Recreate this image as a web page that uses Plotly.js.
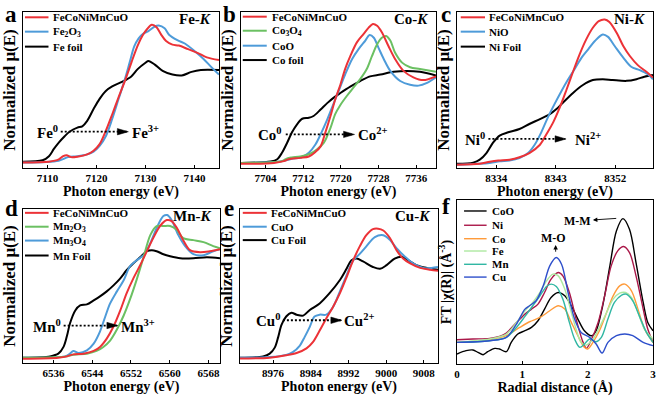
<!DOCTYPE html>
<html><head><meta charset="utf-8">
<script src="https://cdn.plot.ly/plotly-3.0.1.min.js"></script>
<style>html,body{margin:0;padding:0;background:#fff}#chart{width:669px;height:396px}</style>
</head><body><div id="chart"></div>
<script>
// ---------- Panel a: Fe K-edge ----------
const feFoilE = [7105,7109,7110.3,7111.3,7112.3,7113.5,7114.5,7116.1,7117.1,7118.1,7119.4,7120.6,7121.9,7123.2,7125.2,7127.1,7128.4,7130,7130.6,7131.9,7133.5,7135.5,7137.4,7139.4,7141.3,7145];
const feFoilMu = [0,0.015,0.06,0.14,0.21,0.28,0.33,0.375,0.39,0.45,0.58,0.69,0.78,0.83,0.88,0.94,1.02,1.09,1.11,1.07,1.0,0.96,0.95,0.99,1.01,1.01];
const feMixE = [7105,7110.3,7112.3,7113.2,7113.9,7114.8,7116.1,7118.1,7119.4,7120.6,7121.9,7123.2,7124.5,7125.8,7127.1,7128.4,7129.4,7130.3,7131.3,7132.3,7133.2,7134.2,7135.5,7136.8,7138.7,7140.6,7142.5,7145];
const feMixMu = [-0.01,0,0.025,0.06,0.07,0.05,0.055,0.08,0.12,0.19,0.34,0.52,0.71,0.89,1.09,1.28,1.39,1.46,1.51,1.48,1.40,1.33,1.29,1.28,1.24,1.20,1.15,1.12];
const fe2o3E = [7105,7112.3,7114.2,7116.1,7118.1,7119.4,7120.6,7121.9,7123.2,7124.5,7125.8,7126.8,7127.7,7128.6,7129.5,7130.6,7131.9,7132.7,7133.9,7134.8,7136.5,7138.1,7140,7141.9,7143.5,7145];
const fe2o3Mu = [-0.01,0.01,0.05,0.06,0.08,0.11,0.17,0.28,0.47,0.69,0.91,1.10,1.27,1.36,1.41,1.44,1.49,1.50,1.47,1.40,1.34,1.30,1.22,1.13,1.04,0.96];

// ---------- Panel b: Co K-edge ----------
const coFoilE = [7698.8,7705.1,7706.5,7707.5,7708.6,7709.6,7710.7,7711.8,7713.2,7714.2,7715.7,7717.1,7718.5,7719.9,7722,7724.1,7726.2,7728.4,7731.2,7734,7736.8,7740.2];
const coFoilMu = [0,0.015,0.04,0.11,0.22,0.33,0.42,0.48,0.49,0.51,0.58,0.65,0.71,0.76,0.83,0.89,0.94,0.96,0.99,1.0,0.99,0.95];
const coMixE = [7698.8,7705.8,7707.9,7708.9,7711.4,7713.2,7714.6,7715.7,7716.7,7717.8,7718.8,7719.9,7720.9,7722,7723.4,7724.8,7725.9,7726.8,7727.7,7728.7,7730.1,7731.5,7733.3,7735.4,7737.5,7740.2];
const coMixMu = [-0.01,0,0.02,0.04,0.055,0.07,0.12,0.18,0.33,0.51,0.69,0.85,1.02,1.16,1.31,1.40,1.47,1.51,1.49,1.42,1.27,1.13,1.0,0.93,0.90,0.94];
const co3o4E = [7698.8,7707.5,7708.6,7709.6,7711.4,7713.5,7714.9,7716.4,7717.8,7718.8,7719.9,7721.3,7722.7,7724.1,7725.5,7726.6,7727.7,7728.7,7729.6,7730.5,7731.5,7733,7734.7,7736.8,7740.2];
const co3o4Mu = [0,0.02,0.05,0.06,0.07,0.10,0.145,0.22,0.38,0.53,0.63,0.73,0.82,0.91,1.02,1.16,1.29,1.36,1.38,1.33,1.20,1.09,1.04,1.02,0.99];
const cooE = [7698.8,7707.2,7709.6,7711.8,7713.2,7714.6,7715.7,7717.1,7718.5,7719.9,7720.9,7722.4,7723.8,7725.2,7726.1,7727,7728,7729.1,7730.5,7732.6,7734.7,7736.5,7738.3,7740.2];
const cooMu = [0,0.015,0.045,0.065,0.11,0.2,0.31,0.47,0.65,0.83,0.96,1.13,1.24,1.33,1.39,1.36,1.25,1.13,1.0,0.89,0.85,0.84,0.87,0.93];

// ---------- Panel c: Ni K-edge ----------
const niFoilE = [8328.05,8330.5,8331.5,8332.5,8333.5,8334.5,8335.8,8337.5,8339,8340.6,8342.1,8343.1,8344.1,8345.6,8347.1,8348.6,8350.1,8351.6,8353.7,8355.2,8356.4,8357.7];
const niFoilMu = [-0.01,0.005,0.04,0.12,0.245,0.33,0.37,0.41,0.47,0.53,0.59,0.65,0.73,0.845,0.94,1.0,1.01,1.0,0.99,1.01,1.04,1.06];
const niMixE = [8328.05,8331.5,8333,8334.3,8336,8337.5,8339,8340.6,8341.6,8342.6,8343.6,8344.6,8345.6,8346.6,8347.6,8348.6,8349.5,8350.4,8351.1,8352.2,8353.2,8354.2,8355.4,8356.7,8357.7];
const niMixMu = [-0.02,-0.01,0.015,0.03,0.04,0.07,0.12,0.22,0.35,0.49,0.67,0.88,1.10,1.31,1.49,1.63,1.71,1.73,1.70,1.57,1.41,1.29,1.18,1.10,1.03];
const nioE = [8328.05,8333,8334.5,8336,8337.5,8338.8,8339.8,8340.8,8341.8,8342.8,8343.8,8344.8,8345.9,8346.9,8347.9,8348.9,8350.1,8350.9,8351.9,8353.2,8354.4,8355.7,8356.9,8357.7];
const nioMu = [-0.02,0,0.02,0.03,0.06,0.12,0.22,0.37,0.55,0.71,0.86,1.0,1.14,1.27,1.37,1.47,1.55,1.52,1.41,1.27,1.16,1.12,1.07,1.01];

// ---------- Panel d: Mn K-edge ----------
const mnFoilE = [6529.7,6535.3,6537,6538.1,6538.8,6539.4,6540.5,6541.5,6542.9,6544.3,6545.6,6547,6548.4,6549.8,6551.1,6552.5,6553.9,6555.3,6556.3,6557.3,6558.7,6560.1,6562.2,6564.9,6567.7,6570.4];
const mnFoilMu = [0,0.013,0.04,0.11,0.22,0.34,0.47,0.52,0.53,0.57,0.61,0.66,0.72,0.79,0.87,0.94,1.0,1.06,1.07,1.06,1.03,1.01,0.99,0.99,1.0,0.99];
const mnMixE = [6529.7,6537,6538.8,6540.1,6542.2,6544.3,6545.6,6547,6548.4,6549.8,6551.1,6552.5,6553.9,6555.3,6556.6,6558,6559.4,6560.4,6561.5,6562.8,6564.2,6566.3,6568.3,6570.4];
const mnMixMu = [-0.01,0,0.013,0.033,0.04,0.067,0.107,0.19,0.31,0.47,0.64,0.79,0.92,1.06,1.19,1.31,1.37,1.36,1.29,1.17,1.07,1.05,1.06,1.08];
const mn2o3E = [6529.7,6538.8,6540.1,6542.9,6544.9,6546.3,6547.7,6549.1,6550.5,6551.8,6553.2,6554.6,6556,6557.3,6558.7,6560.1,6561.5,6562.8,6564.9,6567,6569,6570.4];
const mn2o3Mu = [0,0.013,0.03,0.04,0.067,0.107,0.17,0.28,0.42,0.58,0.78,1.0,1.22,1.31,1.31,1.31,1.27,1.19,1.17,1.15,1.11,1.09];
const mn3o4E = [6529.7,6538.4,6539.4,6540.1,6541.2,6542.9,6544.3,6545.6,6546.7,6547.7,6549.1,6550.5,6551.8,6553.2,6554.6,6556,6557.3,6558.7,6559.5,6560.4,6561.8,6563.2,6564.9,6567,6569,6570.4];
const mn3o4Mu = [0,0.013,0.04,0.067,0.047,0.073,0.14,0.26,0.41,0.54,0.66,0.77,0.91,0.97,1.02,1.14,1.29,1.41,1.42,1.37,1.22,1.11,1.03,1.02,1.06,1.08];

// ---------- Panel e: Cu K-edge ----------
const cuFoilE = [8969,8973.9,8975.3,8976.4,8977.1,8977.8,8978.8,8979.9,8981,8982.4,8983.8,8985.9,8988,8990.2,8991.6,8992.6,8993.7,8995.1,8997.2,8998.7,9000.1,9001.8,9003.3,9004.7,9006.4,9008.6,9011];
const cuFoilMu = [0,0.014,0.043,0.11,0.22,0.35,0.44,0.48,0.46,0.45,0.51,0.58,0.69,0.83,0.95,1.04,1.06,1.03,0.97,0.95,0.99,1.06,1.08,1.04,0.99,0.96,0.94];
const cuMixE = [8969,8975.3,8978.8,8981,8983.1,8984.5,8985.9,8987.3,8988.7,8990.2,8991.6,8993,8994.4,8995.8,8997.2,8998.3,8999.4,9000.8,9002.2,9003.6,9005,9007.2,9009.3,9011];
const cuMixMu = [-0.01,0,0.025,0.05,0.1,0.17,0.29,0.42,0.54,0.69,0.86,1.04,1.19,1.31,1.375,1.38,1.36,1.28,1.15,1.06,1.01,0.96,0.94,0.93];
const cuoE = [8969,8975.3,8978.8,8980.2,8981.7,8982.7,8983.8,8984.8,8985.9,8987.3,8988.7,8990.2,8991.6,8993,8994.4,8995.8,8997.6,8999.4,9000.8,9002.2,9004,9005.7,9007.9,9009.6,9011];
const cuoMu = [0,0.007,0.03,0.06,0.13,0.22,0.33,0.44,0.46,0.46,0.54,0.71,0.88,1.04,1.11,1.19,1.29,1.31,1.26,1.17,1.08,1.01,0.96,0.96,0.97];

// ---------- Panel f: FT-EXAFS ----------
const cooR = [0,0.14,0.245,0.32,0.40,0.47,0.58,0.65,0.755,0.83,0.93,1.04,1.14,1.24,1.34,1.44,1.55,1.65,1.75,1.85,1.95,2.06,2.13,2.23,2.34,2.44,2.54,2.64,2.74,2.85,2.92,3.0];
const cooFT = [0.30,0.40,0.42,0.35,0.28,0.37,0.47,0.45,0.37,0.65,0.90,1.0,1.10,1.30,1.65,2.0,2.15,2.05,1.75,1.35,1.0,0.85,1.0,1.75,2.95,4.0,4.37,4.05,3.05,1.85,1.25,1.0];
const niR = [0,0.245,0.5,0.65,0.755,0.91,1.04,1.14,1.24,1.34,1.44,1.55,1.62,1.72,1.83,1.93,1.98,2.06,2.16,2.26,2.36,2.46,2.55,2.64,2.74,2.85,2.92,3.0];
const niFT = [0.73,0.75,0.77,0.83,0.93,1.25,1.50,1.65,1.80,2.15,2.55,2.75,2.65,2.15,1.30,0.65,0.47,0.75,1.25,2.05,2.95,3.40,3.53,3.35,2.65,1.65,1.05,0.65];
const coR = [0,0.5,0.755,0.96,1.11,1.27,1.42,1.55,1.65,1.75,1.85,1.95,2.0,2.08,2.18,2.29,2.39,2.49,2.57,2.67,2.77,2.87,3.0];
const coFT = [0.65,0.73,0.85,1.10,1.27,1.40,1.60,1.75,1.65,1.25,0.85,0.50,0.45,0.65,1.0,1.55,2.05,2.35,2.40,2.20,1.65,1.05,0.65];
const feR = [0,0.5,0.755,0.91,1.04,1.16,1.27,1.37,1.47,1.55,1.65,1.75,1.83,1.90,1.98,2.08,2.18,2.29,2.39,2.49,2.58,2.67,2.77,2.87,3.0];
const feFT = [0.65,0.75,0.90,1.25,1.60,1.85,2.15,2.50,2.70,2.65,2.25,1.55,1.0,0.65,0.57,0.75,1.10,1.55,1.95,2.13,2.15,2.0,1.55,1.05,0.75];
const mnR = [0,0.5,0.755,0.91,1.04,1.16,1.27,1.37,1.44,1.52,1.62,1.72,1.80,1.88,1.95,2.03,2.13,2.21,2.31,2.41,2.52,2.59,2.69,2.80,2.90,3.0];
const mnFT = [0.65,0.70,0.80,1.10,1.43,1.75,2.05,2.33,2.40,2.33,1.95,1.25,0.75,0.50,0.60,0.75,0.67,0.80,1.35,1.85,2.07,2.10,1.90,1.40,0.95,0.65];
const cuR = [0,0.5,0.755,0.91,1.04,1.11,1.21,1.32,1.42,1.52,1.60,1.70,1.80,1.90,2.03,2.13,2.22,2.31,2.44,2.57,2.69,2.85,3.0];
const cuFT = [0.65,0.70,0.80,1.20,1.65,1.75,1.90,2.35,2.95,3.20,3.0,2.15,1.35,0.95,0.80,0.60,0.33,0.65,0.85,0.90,0.85,0.65,0.55];

// ---------- tick labels ----------
const ticksA = [7110,7120,7130,7140];
const ticksB = [7704,7712,7720,7728,7736];
const ticksC = [8334,8343,8352];
const ticksD = [6536,6544,6552,6560,6568];
const ticksE = [8976,8984,8992,9000,9008];
const ticksF = [0,1,2,3];

// ---------- styles ----------
const SERIF = 'Liberation Serif, Times New Roman, serif';
const RED = '#EC3237', BLUE = '#4E9BD9', GREEN = '#6BC062', BLACK = '#000000';

const panels = [
  {id:'', letter:'a', elem:'Fe-<i>K</i>', dom:[[23,219],[12,168]], lp:[11,15], xr:[7105,7145], yr:[-0.07,1.65], ticks:ticksA,
   series:[{n:'FeCoNiMnCuO',x:feMixE,y:feMixMu,c:RED},{n:'Fe<sub>2</sub>O<sub>3</sub>',x:fe2o3E,y:fe2o3Mu,c:BLUE},{n:'Fe foil',x:feFoilE,y:feFoilMu,c:BLACK}],
   leg:{x0:0.01,x1:0.13,xt:0.142,ys:[0.966,0.874,0.778]},
   ox:{y:0.33,xs:7112.7,xe:7126.3,l:'Fe<sup>0</sup>',r:'Fe<sup>3+</sup>',lx:7112.5,rx:7126.8},
   xt:'Photon energy (eV)', yt:'Normalized μ(E)'},
  {id:'2', letter:'b', elem:'Co-<i>K</i>', dom:[[241,436],[12,168]], lp:[230,15], xr:[7698.8,7740.2], yr:[-0.055,1.64], ticks:ticksB,
   series:[{n:'FeCoNiMnCuO',x:coMixE,y:coMixMu,c:RED},{n:'Co<sub>3</sub>O<sub>4</sub>',x:co3o4E,y:co3o4Mu,c:GREEN},{n:'CoO',x:cooE,y:cooMu,c:BLUE},{n:'Co foil',x:coFoilE,y:coFoilMu,c:BLACK}],
   leg:{x0:0.009,x1:0.132,xt:0.147,ys:[0.97,0.88,0.784,0.692]},
   ox:{y:0.31,xs:7708.3,xe:7722.7,l:'Co<sup>0</sup>',r:'Co<sup>2+</sup>',lx:7708.0,rx:7723.2},
   xt:'Photon energy (eV)', yt:'Normalized μ(E)'},
  {id:'3', letter:'c', elem:'Ni-<i>K</i>', dom:[[457,653],[12,168]], lp:[446,15], xr:[8328.05,8357.7], yr:[-0.06,1.82], ticks:ticksC,
   series:[{n:'FeCoNiMnCuO',x:niMixE,y:niMixMu,c:RED},{n:'NiO',x:nioE,y:nioMu,c:BLUE},{n:'Ni Foil',x:niFoilE,y:niFoilMu,c:BLACK}],
   leg:{x0:0.019,x1:0.143,xt:0.152,ys:[0.966,0.874,0.778]},
   ox:{y:0.29,xs:8332.8,xe:8344.4,l:'Ni<sup>0</sup>',r:'Ni<sup>2+</sup>',lx:8332.6,rx:8345.6},
   xt:'Photon energy (eV)', yt:'Normalized μ(E)'},
  {id:'4', letter:'d', elem:'Mn-<i>K</i>', dom:[[23,220],[209,363]], lp:[11,208], xr:[6529.7,6570.4], yr:[-0.053,1.48], ticks:ticksD,
   series:[{n:'FeCoNiMnCuO',x:mnMixE,y:mnMixMu,c:RED},{n:'Mn<sub>2</sub>O<sub>3</sub>',x:mn2o3E,y:mn2o3Mu,c:GREEN},{n:'Mn<sub>3</sub>O<sub>4</sub>',x:mn3o4E,y:mn3o4Mu,c:BLUE},{n:'Mn Foil',x:mnFoilE,y:mnFoilMu,c:BLACK}],
   leg:{x0:0.01,x1:0.13,xt:0.142,ys:[0.975,0.885,0.795,0.698]},
   ox:{y:0.32,xs:6538.1,xe:6549.1,l:'Mn<sup>0</sup>',r:'Mn<sup>3+</sup>',lx:6537.9,rx:6549.5},
   xt:'Photon energy (eV)', yt:'Normalized μ(E)'},
  {id:'5', letter:'e', elem:'Cu-<i>K</i>', dom:[[240,438],[209,363]], lp:[229,208], xr:[8969,9011], yr:[-0.057,1.59], ticks:ticksE,
   series:[{n:'FeCoNiMnCuO',x:cuMixE,y:cuMixMu,c:RED},{n:'CuO',x:cuoE,y:cuoMu,c:BLUE},{n:'Cu Foil',x:cuFoilE,y:cuFoilMu,c:BLACK}],
   leg:{x0:0.014,x1:0.135,xt:0.146,ys:[0.975,0.885,0.798]},
   ox:{y:0.40,xs:8978.1,xe:8990.4,l:'Cu<sup>0</sup>',r:'Cu<sup>2+</sup>',lx:8977.9,rx:8990.7},
   xt:'Photon energy (eV)', yt:'Normalized μ(E)'},
  {id:'6', letter:'f', elem:null, dom:[[457,653],[200,364]], lp:[446,206], xr:[0,3], yr:[0,4.93], ticks:ticksF,
   series:[{n:'CoO',x:cooR,y:cooFT,c:'#000000'},{n:'Ni',x:niR,y:niFT,c:'#AA1849'},{n:'Co',x:coR,y:coFT,c:'#FF9B3A'},{n:'Fe',x:feR,y:feFT,c:'#ADE8A0'},{n:'Mn',x:mnR,y:mnFT,c:'#31B7A3'},{n:'Cu',x:cuR,y:cuFT,c:'#2E4FCB'}],
   leg:{x0:0.036,x1:0.151,xt:0.168,ys:[0.933,0.846,0.764,0.689,0.608,0.53]},
   ox:null, ft:true,
   xt:'Radial distance (Å)', yt:'FT |χ(R)| (Å<sup>-3</sup>)'}
];

const W = 669, H = 396;
const traces = [], shapes = [], annotations = [];
const layout = {width:W, height:H, margin:{l:0,r:0,t:0,b:0}, showlegend:false,
  paper_bgcolor:'#fff', plot_bgcolor:'#fff', font:{family:SERIF, color:'#000'}};

panels.forEach(p => {
  const xa = 'x'+p.id, ya = 'y'+p.id;
  const xd = [p.dom[0][0]/W, p.dom[0][1]/W];
  const yd = [1-p.dom[1][1]/H, 1-p.dom[1][0]/H];
  layout['xaxis'+p.id] = {domain:xd, range:p.xr, anchor:ya, showline:true, linecolor:'#000', linewidth:1.2, mirror:true,
    ticks:'inside', ticklen:3, tickwidth:1, tickcolor:'#000', tickvals:p.ticks, showgrid:false, zeroline:false,
    tickfont:{family:SERIF, size:11, weight:700, color:'#000'},
    title:{text:p.xt, font:{family:SERIF, size:14, weight:700, color:'#000'}, standoff:1}};
  layout['yaxis'+p.id] = {domain:yd, range:p.yr, anchor:xa, showline:true, linecolor:'#000', linewidth:1.2, mirror:true,
    ticks:'', showticklabels:false, showgrid:false, zeroline:false,
    title:{text:p.yt, font:{family:SERIF, size:p.ft?14:17, weight:700, color:'#000'}, standoff:1}};
  const order = p.ft ? p.series : p.series.slice().reverse();
  order.forEach(s => traces.push({type:'scatter', mode:'lines', x:s.x, y:s.y, xaxis:xa, yaxis:ya, name:s.n,
    line:{color:s.c, width:p.ft?1.4:2, shape:'spline', smoothing:0.9}, hoverinfo:'skip'}));
  // legend
  p.series.forEach((s,i) => {
    const yy = p.leg.ys[i];
    shapes.push({type:'line', xref:xa+' domain', yref:ya+' domain', x0:p.leg.x0, x1:p.leg.x1, y0:yy, y1:yy,
      line:{color:s.c, width:p.ft?1.4:2}});
    annotations.push({xref:xa+' domain', yref:ya+' domain', x:p.leg.xt, y:yy, xanchor:'left', yanchor:'middle',
      text:s.n, showarrow:false, font:{family:SERIF, size:11, weight:700, color:'#000'}});
  });
  // panel letter
  annotations.push({xref:'paper', yref:'paper', x:p.lp[0]/W, y:1-p.lp[1]/H, xanchor:'center', yanchor:'middle',
    text:p.letter, showarrow:false, font:{family:SERIF, size:23, weight:700, color:'#000'}});
  if (p.elem) annotations.push({xref:xa+' domain', yref:ya+' domain', x:0.97, y:0.955, xanchor:'right', yanchor:'middle',
    text:p.elem, showarrow:false, font:{family:SERIF, size:15, weight:700, color:'#000'}});
  if (p.ox) {
    const o = p.ox;
    shapes.push({type:'line', xref:xa, yref:ya, x0:o.xs, x1:o.xe, y0:o.y, y1:o.y, line:{color:'#000', width:1.8, dash:'2px,2px'}});
    shapes.push({type:'path', xref:xa, yref:ya, xsizemode:'pixel', ysizemode:'pixel', xanchor:o.xe, yanchor:o.y,
      path:'M1,0 L-10,3.2 L-10,-3.2 Z', fillcolor:'#000', line:{color:'#000', width:0.5}});
    annotations.push({xref:xa, yref:ya, x:o.lx, y:o.y, xanchor:'right', yanchor:'middle', text:o.l, showarrow:false,
      font:{family:SERIF, size:15, weight:700, color:'#000'}});
    annotations.push({xref:xa, yref:ya, x:o.rx, y:o.y, xanchor:'left', yanchor:'middle', text:o.r, showarrow:false,
      font:{family:SERIF, size:15, weight:700, color:'#000'}});
  }
  if (p.ft) {
    annotations.push({xref:xa, yref:ya, x:1.85, y:4.30, text:'M-M', showarrow:false, font:{family:SERIF, size:12, weight:700, color:'#000'}});
    annotations.push({xref:xa, yref:ya, x:2.08, y:4.33, ax:2.46, ay:4.38, axref:xa, ayref:ya, text:'', showarrow:true,
      arrowhead:2, arrowsize:1, arrowwidth:0.9, arrowcolor:'#000'});
    annotations.push({xref:xa, yref:ya, x:1.47, y:3.80, text:'M-O', showarrow:false, font:{family:SERIF, size:12, weight:700, color:'#000'}});
    annotations.push({xref:xa, yref:ya, x:1.51, y:3.58, ax:1.51, ay:3.33, axref:xa, ayref:ya, text:'', showarrow:true,
      arrowhead:2, arrowsize:1, arrowwidth:0.9, arrowcolor:'#000'});
  }
});
layout.shapes = shapes;
layout.annotations = annotations;
Plotly.newPlot('chart', traces, layout, {displayModeBar:false, staticPlot:true});
</script></body></html>
